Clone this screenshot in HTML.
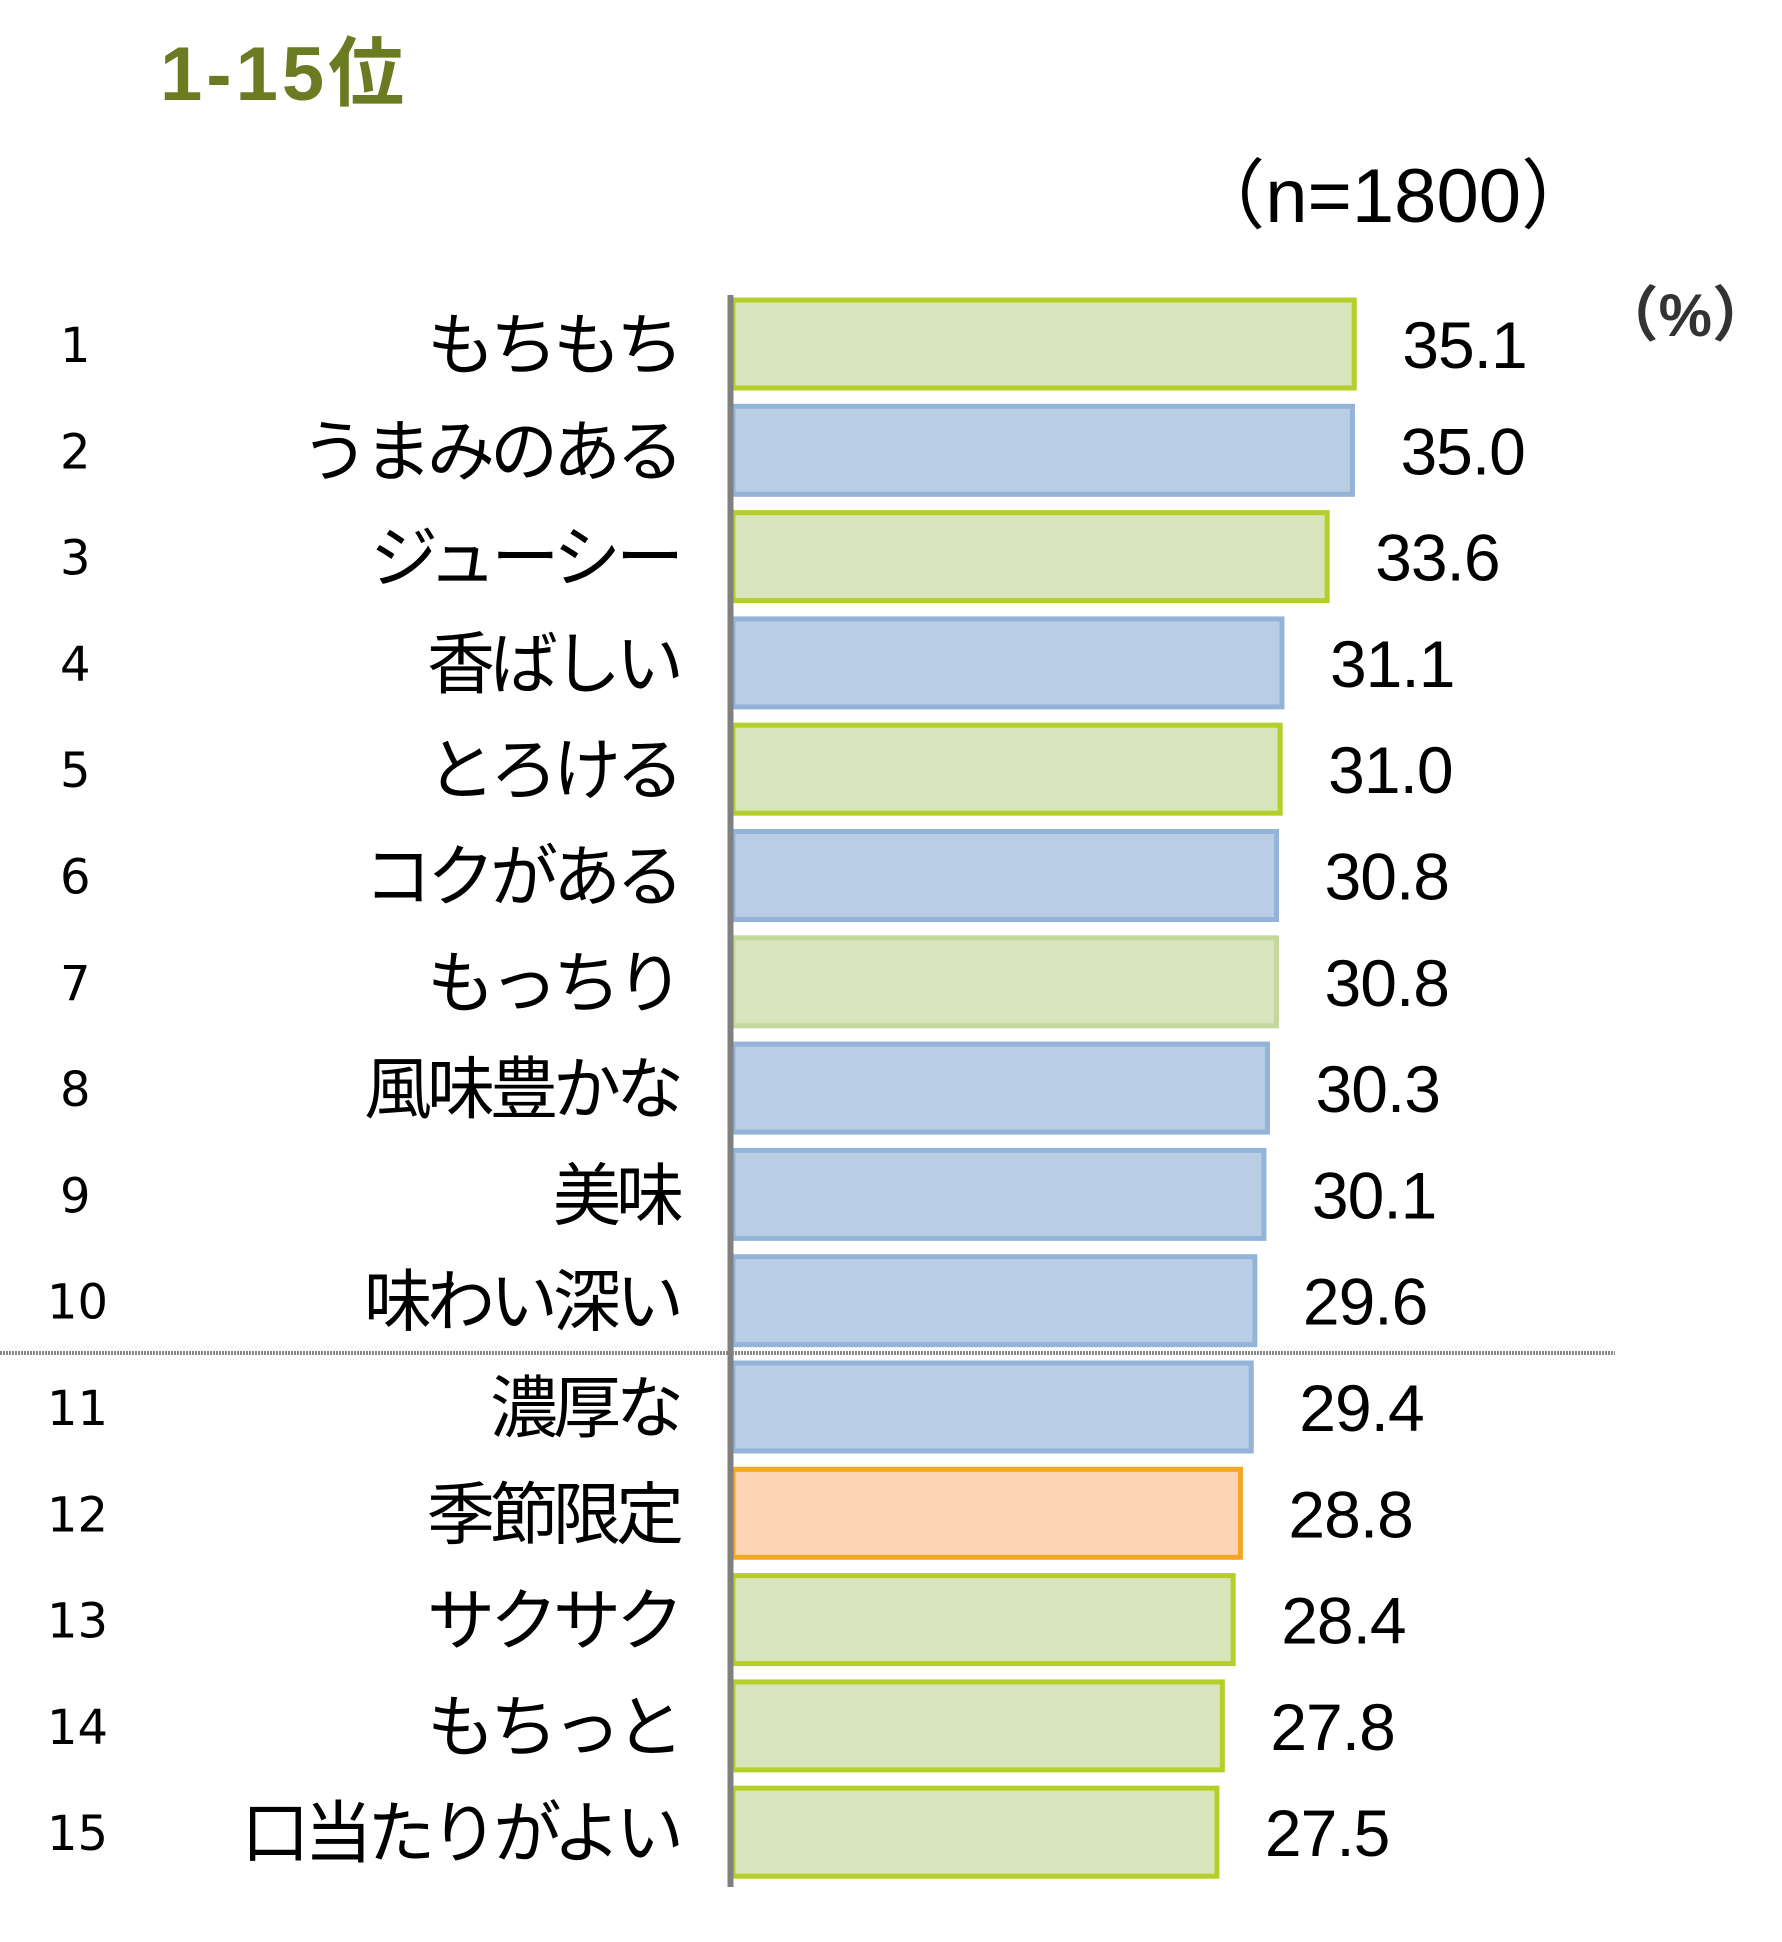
<!DOCTYPE html>
<html><head><meta charset="utf-8"><style>
body{margin:0;background:#fff;}
svg{display:block;font-family:"Liberation Sans","Noto Sans CJK JP",sans-serif;}
</style></head><body>
<svg id="chart" width="1782" height="1942" viewBox="0 0 1782 1942">
<text x="160" y="100" font-size="76" font-weight="bold" fill="#6b7b22" letter-spacing="4">1-15位</text>
<text x="1597" y="222" font-size="76" text-anchor="end" fill="#000">（n=1800）</text>
<text x="1772" y="336" font-size="60" text-anchor="end" fill="#333" font-weight="bold">（%）</text>
<g id="bars"></g>
<line x1="0" y1="1353" x2="1615" y2="1353" stroke="#888" stroke-width="4" stroke-dasharray="2,1"/>
<line x1="730.5" y1="295" x2="730.5" y2="1887" stroke="#808080" stroke-width="6"/>
</svg>
<script>
const categories=["もちもち","うまみのある","ジューシー","香ばしい","とろける","コクがある","もっちり","風味豊かな","美味","味わい深い","濃厚な","季節限定","サクサク","もちっと","口当たりがよい"];
const values=[35.1,35.0,33.6,31.1,31.0,30.8,30.8,30.3,30.1,29.6,29.4,28.8,28.4,27.8,27.5];
const valueLabels=["35.1","35.0","33.6","31.1","31.0","30.8","30.8","30.3","30.1","29.6","29.4","28.8","28.4","27.8","27.5"];
const groups=["g","b","g","b","g","b","g2","b","b","b","b","o","g","g","g"];
const styles={g:["#d8e4bc","#b5cf2a"],g2:["#d8e4bc","#c4d89c"],b:["#b9cde5","#93b3d9"],o:["#fbd5b5","#f5a623"]};
const x0=733, xOrigin=720, pxPer=18.07, top0=300, pitch=106.3, bh=88;
const xs=v=>xOrigin+v*pxPer, ys=i=>top0+i*pitch;
const g=document.getElementById('bars'), NS="http://www.w3.org/2000/svg";
categories.forEach((c,i)=>{
  const y=ys(i), cy=y+bh/2;
  const r=document.createElementNS(NS,'rect');
  
  
  r.setAttribute('x',x0);r.setAttribute('y',y);
  r.setAttribute('width',xs(values[i])-x0);r.setAttribute('height',bh);
  r.setAttribute('fill',styles[groups[i]][0]);r.setAttribute('stroke',styles[groups[i]][1]);r.setAttribute('stroke-width',5);
  g.appendChild(r);
  const rk=document.createElementNS(NS,'text');
  
  
  rk.setAttribute('x',i<9?60:47);rk.setAttribute('y',cy+18);rk.setAttribute('font-size',48);
  rk.setAttribute('font-family','"DejaVu Sans","Noto Sans CJK JP",sans-serif');
  rk.textContent=String(i+1);g.appendChild(rk);
  const lb=document.createElementNS(NS,'text');
  
  
  lb.setAttribute('x',679);lb.setAttribute('y',cy+25);lb.setAttribute('font-size',68);lb.setAttribute('text-anchor','end');lb.setAttribute('letter-spacing','-5');
  lb.textContent=c;g.appendChild(lb);
  const vl=document.createElementNS(NS,'text');
  
  
  vl.setAttribute('x',xs(values[i])+48);vl.setAttribute('y',cy+24);vl.setAttribute('font-size',66);vl.setAttribute('letter-spacing','-1');
  vl.textContent=valueLabels[i];g.appendChild(vl);
});
</script>
</body></html>
